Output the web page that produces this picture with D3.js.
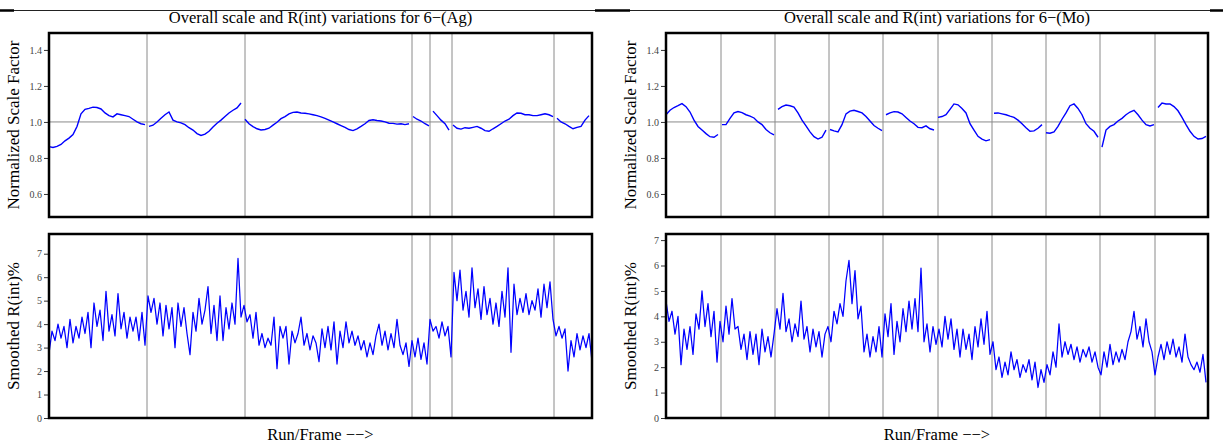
<!DOCTYPE html>
<meta charset="utf-8">
<script src="https://d3js.org/d3.v7.min.js"></script>
<style>
  body { margin: 0; background: #fff; }
  text { font-family: "Liberation Serif", "DejaVu Serif", serif; }
</style>
<div id="my_dataviz"></div>
<script>

// ---- data ----
// Ag crystal: frame count, run boundaries (frames), scale every 8 frames, R(int) every 6 frames
var agFrames = 1086;
var agRunBreaks = [196, 392, 726, 762, 806, 1010];
var agScale = [
  0.863, 0.858, 0.864, 0.875, 0.895, 0.91, 0.93, 0.975, 1.045, 1.07, 1.075, 1.082, 1.08,
  1.072, 1.05, 1.035, 1.028, 1.045, 1.04, 1.035, 1.03, 1.015, 1.0, 0.99, 0.985,
  0.975, 0.982, 1.0, 1.02, 1.04, 1.055, 1.01, 1.0, 0.995, 0.985, 0.968, 0.955, 0.935,
  0.925, 0.932, 0.948, 0.972, 0.993, 1.01, 1.03, 1.05, 1.065, 1.078, 1.105,
  1.015, 0.99, 0.974, 0.962, 0.955, 0.958, 0.965, 0.982, 0.998, 1.018, 1.03, 1.045,
  1.053, 1.055, 1.05, 1.048, 1.045, 1.04, 1.035, 1.028, 1.02, 1.01, 1.0, 0.99, 0.98,
  0.97, 0.958, 0.952, 0.962, 0.975, 0.99, 1.008, 1.012, 1.008, 1.005, 1.0, 0.993,
  0.992, 0.988, 0.99, 0.985, 0.99,
  1.03, 1.015, 1.005, 0.99, 0.978,
  1.06, 1.035, 1.01, 0.99, 0.955,
  0.983, 0.965, 0.96, 0.968, 0.965, 0.97, 0.975, 0.965, 0.952, 0.948, 0.962, 0.975,
  0.99, 1.005, 1.015, 1.035, 1.05, 1.048, 1.04, 1.04, 1.035, 1.035, 1.04, 1.045, 1.04, 1.03,
  1.02, 1.0, 0.99, 0.975, 0.962, 0.97, 0.975, 1.01, 1.035
];
var agRint = [
  2.75, 3.7, 3.3, 4.0, 3.4, 3.9, 3.0, 4.2, 3.2, 3.9, 3.4, 4.3, 3.6, 4.5, 3.0, 4.9, 3.9, 4.6,
  3.3, 5.4, 3.7, 4.4, 3.5, 5.3, 3.8, 4.5, 3.4, 4.3, 3.7, 4.3, 3.3, 4.5, 3.1, 5.2, 4.5, 5.1,
  4.0, 4.9, 3.5, 4.8, 3.8, 4.7, 3.0, 4.9, 3.9, 4.7, 3.6, 2.7, 4.5, 3.7, 5.1, 4.0, 4.6, 5.6,
  3.6, 4.8, 3.3, 5.2, 3.3, 4.7, 3.8, 4.9, 4.0, 6.8, 4.3, 4.8, 4.1, 4.4, 3.4, 4.5, 3.1, 3.6,
  3.0, 3.4, 3.1, 4.3, 2.1, 3.9, 3.4, 3.9, 2.3, 3.7, 3.2, 3.6, 4.3, 3.1, 3.6, 2.9, 3.5, 3.2,
  2.4, 3.8, 3.0, 3.9, 2.9, 4.1, 2.3, 3.7, 3.0, 4.1, 3.2, 3.7, 3.1, 3.5, 2.9, 3.3, 2.6, 3.2,
  2.7, 3.5, 4.0, 3.1, 3.7, 2.9, 3.6, 3.0, 4.2, 3.1, 2.7, 3.2, 2.2, 3.3, 2.6, 3.4, 2.5, 3.2,
  2.3, 4.2, 3.7, 3.9, 3.4, 4.1, 3.5, 3.9, 2.6, 6.2, 5.0, 6.3, 4.6, 5.4, 4.3, 6.4, 4.7, 5.5,
  4.2, 5.6, 4.4, 5.1, 4.0, 4.9, 3.9, 5.4, 4.3, 6.4, 2.8, 5.7, 4.4, 5.1, 4.5, 5.3, 4.4, 5.0,
  4.6, 5.5, 4.3, 5.7, 4.7, 5.8, 4.2, 3.5, 3.9, 3.4, 3.8, 2.0, 3.3, 2.6, 3.6, 2.9, 3.5, 3.0,
  3.6, 2.4
];

// Mo crystal
var moFrames = 1084;
var moRunBreaks = [110, 218, 326, 434, 544, 652, 760, 868, 978];
var moScale = [
  1.04, 1.065, 1.08, 1.09, 1.102, 1.085, 1.055, 1.01, 0.975, 0.955, 0.935, 0.918, 0.915, 0.93,
  0.985, 0.985, 1.02, 1.05, 1.058, 1.052, 1.04, 1.032, 1.022, 1.0, 0.985, 0.958, 0.94, 0.928,
  1.07, 1.085, 1.094, 1.09, 1.083, 1.05, 1.01, 0.978, 0.945, 0.918, 0.905, 0.915, 0.955,
  0.958, 0.95, 0.945, 0.985, 1.045, 1.06, 1.065, 1.058, 1.05, 1.03, 1.005, 0.98, 0.965, 0.952,
  1.04, 1.05, 1.057, 1.055, 1.045, 1.025, 1.005, 0.99, 0.97, 0.968, 0.978, 0.962, 0.955,
  1.025, 1.03, 1.04, 1.07, 1.1, 1.095, 1.075, 1.05, 0.99, 0.955, 0.92, 0.905, 0.895, 0.902,
  1.048, 1.05, 1.045, 1.04, 1.032, 1.025, 1.01, 0.99, 0.968, 0.948, 0.95, 0.965, 0.985,
  0.94, 0.937, 0.945, 0.975, 1.015, 1.05, 1.09, 1.1, 1.075, 1.04, 0.99, 0.965, 0.948, 0.915,
  0.86, 0.955, 0.975, 0.985, 1.005, 1.02, 1.04, 1.055, 1.065, 1.04, 1.01, 0.985, 0.978, 0.985,
  1.08, 1.105, 1.1, 1.1, 1.085, 1.062, 1.025, 0.985, 0.948, 0.92, 0.905, 0.908, 0.92
];
var moRint = [
  4.6, 3.8, 4.2, 3.3, 4.0, 2.1, 3.5, 2.7, 3.6, 2.5, 4.1, 3.5, 5.0, 3.6, 4.5, 3.2, 4.2, 2.2,
  3.8, 3.0, 4.4, 3.3, 4.7, 3.5, 3.6, 2.7, 3.3, 2.3, 3.4, 2.5, 3.3, 2.1, 3.5, 2.6, 3.2, 2.4,
  3.3, 4.3, 3.5, 4.9, 3.4, 3.9, 3.0, 3.7, 3.2, 4.6, 3.1, 3.6, 2.6, 3.5, 2.8, 3.4, 2.4, 3.3,
  3.6, 3.0, 4.2, 3.7, 4.5, 4.0, 5.4, 6.2, 4.5, 5.8, 3.9, 4.4, 2.6, 3.3, 2.4, 3.2, 2.6, 3.6,
  2.4, 4.1, 3.2, 4.5, 2.5, 3.8, 3.0, 4.3, 3.4, 4.6, 3.5, 4.7, 3.4, 5.9, 3.0, 3.7, 2.6, 3.6,
  2.9, 3.5, 2.8, 4.0, 3.1, 3.9, 2.7, 3.5, 2.4, 3.5, 2.7, 3.3, 2.3, 3.6, 2.8, 3.9, 2.9, 4.2,
  2.5, 3.0, 1.9, 2.4, 1.6, 2.2, 1.7, 2.6, 1.9, 2.3, 1.6, 2.1, 1.8, 2.3, 1.5, 2.2, 1.2, 1.9,
  1.4, 2.1, 1.7, 2.6, 2.0, 3.7, 2.4, 3.0, 2.5, 2.9, 2.3, 2.8, 2.2, 2.7, 2.4, 2.8, 2.2, 2.6,
  2.0, 1.7, 2.6, 2.0, 2.9, 2.1, 2.6, 2.2, 2.7, 2.3, 3.0, 3.4, 4.2, 3.1, 3.6, 2.8, 3.9, 3.0,
  2.6, 1.7, 2.4, 2.9, 2.3, 3.0, 2.5, 3.1, 2.4, 2.8, 2.2, 3.3, 2.4, 2.1, 1.9, 2.2, 1.8, 2.5,
  1.4
];

var scaleTicks = [0.6, 0.8, 1.0, 1.2, 1.4];
var rintTicks = [0, 1, 2, 3, 4, 5, 6, 7];
var scaleStep = 8, rintStep = 6;

var width = 1223, height = 445;

var svg = d3.select("#my_dataviz")
  .append("svg")
    .attr("width", width)
    .attr("height", height);

// page rules at the very top
svg.append("line").attr("x1", 0).attr("x2", width).attr("y1", 10.5).attr("y2", 10.5)
  .attr("stroke", "#222").attr("stroke-width", 1);
[[0, 14], [595, 630], [1210, 1223]].forEach(function(s) {
  svg.append("line").attr("x1", s[0]).attr("x2", s[1]).attr("y1", 10.5).attr("y2", 10.5)
    .attr("stroke", "#000").attr("stroke-width", 2.5);
});

function drawColumn(o) {
  var g = svg.append("g");

  var x = d3.scaleLinear().domain([0, o.frames]).range([o.left, o.right]);
  var yTop = d3.scaleLinear().domain([0.472, 1.494]).range([217, 33]);
  var yBot = d3.scaleLinear().domain([0, o.rintMax]).range([418, 234]);

  g.append("text")
    .attr("x", (o.left + o.right) / 2).attr("y", 23)
    .attr("text-anchor", "middle").style("font-size", "16.5px")
    .text(o.title);

  var panels = [
    { y: yTop, ticks: scaleTicks, fmt: d3.format(".1f"), label: "Normalized Scale Factor" },
    { y: yBot, ticks: rintTicks, fmt: d3.format("d"), label: "Smoothed R(int)%" }
  ];

  panels.forEach(function(p, k) {
    var top = p.y.range()[1], bot = p.y.range()[0];

    // run separators
    g.selectAll(null).data(o.breaks).enter().append("line")
      .attr("x1", function(d) { return x(d); }).attr("x2", function(d) { return x(d); })
      .attr("y1", top).attr("y2", bot)
      .attr("stroke", "#8a8a8a").attr("stroke-width", 1);

    var ax = g.append("g")
      .attr("transform", "translate(" + o.left + ",0)")
      .call(d3.axisLeft(p.y).tickValues(p.ticks).tickFormat(p.fmt).tickSize(5).tickPadding(2));
    ax.select(".domain").remove();
    ax.selectAll("line").attr("stroke", "#333");
    ax.selectAll("text").style("font-size", "10px").attr("fill", "#444")
      .style("font-family", "'Liberation Serif', serif");

    g.append("text")
      .attr("transform", "translate(" + (o.left - 30) + "," + ((top + bot) / 2) + ") rotate(-90)")
      .attr("text-anchor", "middle").style("font-size", "17px")
      .text(p.label);
  });

  // reference line at 1.0
  g.append("line")
    .attr("x1", o.left).attr("x2", o.right)
    .attr("y1", yTop(1)).attr("y2", yTop(1))
    .attr("stroke", "#8a8a8a").attr("stroke-width", 1);

  // scale factor, one piece per run
  var pts = o.scale.map(function(v, i) { return { f: i * scaleStep, v: v }; });
  var runs = d3.groups(pts, function(d) { return d3.bisectRight(o.breaks, d.f); });
  var lineTop = d3.line().x(function(d) { return x(d.f); }).y(function(d) { return yTop(d.v); });
  g.selectAll(null).data(runs).enter().append("path")
    .attr("d", function(r) { return lineTop(r[1]); })
    .attr("fill", "none").attr("stroke", "#0000ff").attr("stroke-width", 1.4);

  // smoothed R(int)
  var lineBot = d3.line()
    .x(function(d, i) { return x(i * rintStep); })
    .y(function(d) { return yBot(d); });
  g.append("path").datum(o.rint)
    .attr("d", lineBot)
    .attr("fill", "none").attr("stroke", "#0000ff").attr("stroke-width", 1.25)
    .attr("stroke-linejoin", "round");

  // frames
  [yTop, yBot].forEach(function(y) {
    g.append("rect")
      .attr("x", o.left).attr("y", y.range()[1])
      .attr("width", o.right - o.left).attr("height", y.range()[0] - y.range()[1])
      .attr("fill", "none").attr("stroke", "#000").attr("stroke-width", 2.5);
  });

  g.append("text")
    .attr("x", (o.left + o.right) / 2).attr("y", 440)
    .attr("text-anchor", "middle").style("font-size", "16.5px")
    .text("Run/Frame \u2212\u2212>");
}

drawColumn({ left: 49, right: 592, frames: agFrames, breaks: agRunBreaks,
  scale: agScale, rint: agRint, rintMax: 7.84,
  title: "Overall scale and R(int) variations for 6\u2212(Ag)" });
drawColumn({ left: 666, right: 1208, frames: moFrames, breaks: moRunBreaks,
  scale: moScale, rint: moRint, rintMax: 7.24,
  title: "Overall scale and R(int) variations for 6\u2212(Mo)" });

</script>
